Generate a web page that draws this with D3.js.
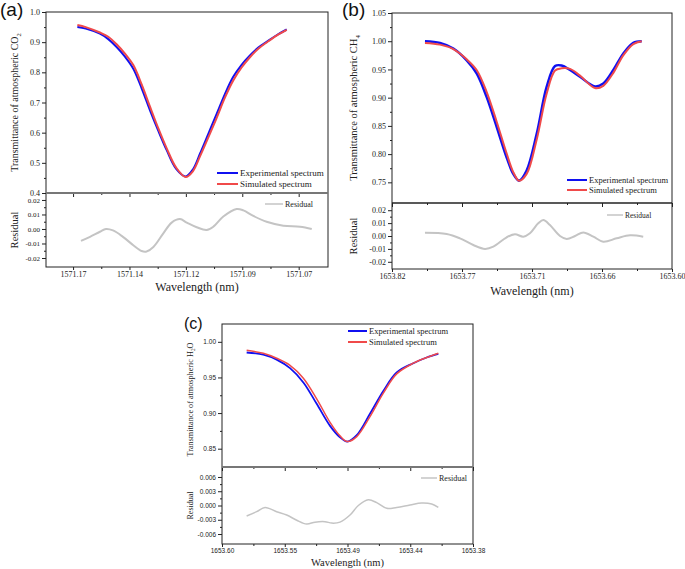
<!DOCTYPE html>
<html><head><meta charset="utf-8">
<script src="https://cdn.jsdelivr.net/npm/d3@7"></script>
<style>body{margin:0;background:#fff} svg{display:block}</style>
</head><body>
<svg id="chart" width="685" height="569"></svg>
<script>
// ---------- Panel (a): CO2 ----------
const aWavelength = [1571.1631,1571.1594,1571.1531,1571.1494,1571.1457,1571.1420,1571.1383,1571.1346,1571.1309,1571.1272,1571.1235,1571.1193,1571.1151,1571.1119,1571.1087,1571.1050,1571.1013,1571.0977,1571.0940,1571.0903,1571.0866,1571.0829,1571.0792,1571.0748,1571.0703];
const aExperimental = [0.950,0.945,0.928,0.910,0.884,0.852,0.812,0.747,0.674,0.606,0.542,0.480,0.455,0.478,0.531,0.597,0.663,0.728,0.785,0.825,0.856,0.882,0.901,0.923,0.942];
const aSimulated = [0.957,0.950,0.932,0.918,0.893,0.862,0.824,0.760,0.686,0.614,0.548,0.484,0.453,0.472,0.522,0.585,0.650,0.716,0.773,0.816,0.850,0.878,0.899,0.922,0.941];
const aResidualWavelength = [1571.1615,1571.1575,1571.1531,1571.1504,1571.1473,1571.1429,1571.1383,1571.1346,1571.1324,1571.1294,1571.1250,1571.1213,1571.1176,1571.1146,1571.1102,1571.1058,1571.1028,1571.0984,1571.0925,1571.0895,1571.0851,1571.0792,1571.0718,1571.0644,1571.0592];
const aResidual = [-0.0082,-0.0054,-0.0019,0.0000,-0.0010,-0.0054,-0.0112,-0.0152,-0.0155,-0.0124,-0.0030,0.0044,0.0068,0.0044,0.0012,-0.0007,0.0016,0.0086,0.0138,0.0128,0.0090,0.0050,0.0023,0.0016,0.0000];
const aXTicks = [1571.165,1571.14,1571.115,1571.09,1571.065];
const aXTickLabels = ["1571.17","1571.14","1571.12","1571.09","1571.07"];
const aYTicks = [0.4,0.5,0.6,0.7,0.8,0.9,1.0];
const aYTickLabels = ["0.4","0.5","0.6","0.7","0.8","0.9","1.0"];
const aResTicks = [0.02,0.01,0,-0.01,-0.02];
const aResTickLabels = ["0.02","0.01","0.00","-0.01","-0.02"];

// ---------- Panel (b): CH4 ----------
const bWavelength = [1653.7941,1653.7823,1653.7718,1653.7613,1653.7535,1653.7456,1653.7377,1653.7299,1653.7247,1653.7202,1653.7142,1653.7063,1653.6985,1653.6919,1653.6867,1653.6801,1653.6723,1653.6605,1653.6540,1653.6461,1653.6383,1653.6304,1653.6238];
const bExperimental = [1.000,0.997,0.987,0.966,0.943,0.901,0.848,0.794,0.765,0.753,0.771,0.836,0.919,0.956,0.957,0.949,0.937,0.920,0.925,0.949,0.978,0.997,1.000];
const bSimulated = [0.997,0.994,0.986,0.968,0.949,0.910,0.857,0.801,0.768,0.753,0.765,0.826,0.907,0.948,0.952,0.951,0.939,0.917,0.921,0.944,0.975,0.995,1.000];
const bResidualWavelength = [1653.7941,1653.7770,1653.7666,1653.7561,1653.7469,1653.7404,1653.7299,1653.7234,1653.7168,1653.7116,1653.7051,1653.7011,1653.6959,1653.6880,1653.6827,1653.6762,1653.6697,1653.6618,1653.6540,1653.6435,1653.6330,1653.6226];
const bResidual = [0.0026,0.0016,-0.0018,-0.0070,-0.0100,-0.0083,-0.0010,0.0013,-0.0005,0.0021,0.0098,0.0124,0.0085,0.0000,-0.0023,0.0000,0.0028,-0.0005,-0.0044,-0.0018,0.0005,-0.0005];
const bXTicks = [1653.82,1653.765,1653.71,1653.655,1653.60];
const bXTickLabels = ["1653.82","1653.77","1653.71","1653.66","1653.60"];
const bYTicks = [0.75,0.80,0.85,0.90,0.95,1.00,1.05];
const bYTickLabels = ["0.75","0.80","0.85","0.90","0.95","1.00","1.05"];
const bResTicks = [0.02,0.01,0,-0.01,-0.02];
const bResTickLabels = ["0.02","0.01","0.00","-0.01","-0.02"];

// ---------- Panel (c): H2O ----------
const cWavelength = [1653.5784,1653.5638,1653.5521,1653.5404,1653.5287,1653.5170,1653.5053,1653.4966,1653.4902,1653.4819,1653.4703,1653.4586,1653.4469,1653.4323,1653.4206,1653.4104];
const cExperimental = [0.985,0.982,0.975,0.963,0.943,0.913,0.882,0.866,0.860,0.869,0.899,0.931,0.957,0.970,0.978,0.983];
const cSimulated = [0.988,0.984,0.977,0.967,0.949,0.920,0.887,0.868,0.860,0.867,0.895,0.928,0.955,0.970,0.978,0.984];
const cResidualWavelength = [1653.5784,1653.5696,1653.5623,1653.5521,1653.5433,1653.5345,1653.5258,1653.5185,1653.5097,1653.5038,1653.4966,1653.4878,1653.4805,1653.4718,1653.4644,1653.4556,1653.4469,1653.4352,1653.4250,1653.4162,1653.4104];
const cResidual = [-0.0022,-0.0013,-0.0004,-0.0013,-0.0020,-0.0031,-0.0039,-0.0035,-0.0034,-0.0037,-0.0035,-0.0020,0.0000,0.0012,0.0006,-0.0006,-0.0004,0.0001,0.0005,0.0003,-0.0004];
const cXTicks = [1653.60,1653.545,1653.49,1653.435,1653.38];
const cXTickLabels = ["1653.60","1653.55","1653.49","1653.44","1653.38"];
const cYTicks = [0.85,0.90,0.95,1.00];
const cYTickLabels = ["0.85","0.90","0.95","1.00"];
const cResTicks = [0.006,0.003,0,-0.003,-0.006];
const cResTickLabels = ["0.006","0.003","0.000","-0.003","-0.006"];

const legendLabels = ["Experimental spectrum","Simulated spectrum"];
const residualLabel = "Residual";

const BLUE = "#1010f0", RED = "#f04a4a", GRAY = "#c4c4c4";
const SERIF = "'Liberation Serif','Times New Roman',serif";
const SANS = "'Liberation Sans',Arial,sans-serif";
const svg = d3.select("#chart");

function midpoints(arr){const m=[];for(let i=0;i<arr.length-1;i++)m.push((arr[i]+arr[i+1])/2);return m;}

function drawPanel(p){
  const g = svg.append("g");
  const x = d3.scaleLinear().domain(p.xDomain).range([p.left,p.right]);
  const yM = d3.scaleLinear().domain(p.yMainDomain).range([p.mid,p.top]);
  const yR = d3.scaleLinear().domain(p.yResDomain).range([p.bottom,p.mid]);

  const styleAxis = (sel, font, size) => {
    sel.select(".domain").remove();
    sel.attr("font-family", font).attr("font-size", size);
    sel.selectAll("line").attr("stroke","#222");
    sel.selectAll("text").attr("fill","#222");
  };

  g.append("g").attr("transform",`translate(${p.left},0)`)
    .call(d3.axisLeft(yM).tickValues(p.yTicks).tickFormat((d,i)=>p.yLabels[i]).tickSize(4).tickPadding(2))
    .call(s=>styleAxis(s,p.tickFont,p.tickSize));
  g.append("g").attr("transform",`translate(${p.left},0)`)
    .call(d3.axisLeft(yM).tickValues(midpoints(p.yTicks)).tickFormat("").tickSize(2))
    .call(s=>styleAxis(s,p.tickFont,p.tickSize));
  g.append("g").attr("transform",`translate(${p.left},0)`)
    .call(d3.axisLeft(yR).tickValues(p.rTicks).tickFormat((d,i)=>p.rLabels[i]).tickSize(4).tickPadding(2))
    .call(s=>styleAxis(s,p.tickFont,p.rTickSize||p.tickSize));
  g.append("g").attr("transform",`translate(${p.left},0)`)
    .call(d3.axisLeft(yR).tickValues(midpoints(p.rTicks)).tickFormat("").tickSize(2))
    .call(s=>styleAxis(s,p.tickFont,p.tickSize));
  const xMinor = midpoints(p.xTicks);
  g.append("g").attr("transform",`translate(0,${p.mid})`)
    .call(d3.axisBottom(x).tickValues(p.xTicks).tickFormat("").tickSize(4)).call(s=>styleAxis(s,p.tickFont,p.tickSize));
  g.append("g").attr("transform",`translate(0,${p.mid})`)
    .call(d3.axisBottom(x).tickValues(xMinor).tickFormat("").tickSize(2)).call(s=>styleAxis(s,p.tickFont,p.tickSize));
  g.append("g").attr("transform",`translate(0,${p.bottom})`)
    .call(d3.axisBottom(x).tickValues(p.xTicks).tickFormat((d,i)=>p.xLabels[i]).tickSize(3).tickPadding(p.xPad))
    .call(s=>styleAxis(s,p.tickFont,p.tickSize));
  g.append("g").attr("transform",`translate(0,${p.bottom})`)
    .call(d3.axisBottom(x).tickValues(xMinor).tickFormat("").tickSize(2)).call(s=>styleAxis(s,p.tickFont,p.tickSize));

  g.append("rect").attr("x",p.left).attr("y",p.top).attr("width",p.right-p.left).attr("height",p.bottom-p.top)
    .attr("fill","none").attr("stroke","#222").attr("stroke-width",1);
  g.append("line").attr("x1",p.left).attr("x2",p.right).attr("y1",p.mid).attr("y2",p.mid)
    .attr("stroke",p.sepColor).attr("stroke-width",p.sepWidth);

  const lineMain = d3.line().x(d=>x(d[0])).y(d=>yM(d[1])).curve(d3.curveCatmullRom.alpha(0.5));
  const lineRes = d3.line().x(d=>x(d[0])).y(d=>yR(d[1])).curve(d3.curveCatmullRom.alpha(0.5));
  g.append("path").attr("d",lineMain(p.wl.map((w,i)=>[w,p.exp[i]]))).attr("fill","none")
    .attr("stroke",BLUE).attr("stroke-width",p.lwExp);
  g.append("path").attr("d",lineMain(p.wl.map((w,i)=>[w,p.sim[i]]))).attr("fill","none")
    .attr("stroke",RED).attr("stroke-width",p.lwSim);
  g.append("path").attr("d",lineRes(p.rwl.map((w,i)=>[w,p.res[i]]))).attr("fill","none")
    .attr("stroke",GRAY).attr("stroke-width",p.lwRes);

  [BLUE,RED].forEach((c,i)=>{
    const ly = p.legY + i*p.legGap;
    g.append("line").attr("x1",p.legX).attr("x2",p.legX+p.legLen).attr("y1",ly).attr("y2",ly)
      .attr("stroke",c).attr("stroke-width",2);
    g.append("text").attr("x",p.legX+p.legLen+2).attr("y",ly).attr("dy","0.35em")
      .attr("font-family",SERIF).attr("font-size",p.legSize).attr("fill","#222").text(legendLabels[i]);
  });
  g.append("line").attr("x1",p.rLegX).attr("x2",p.rLegX+p.rLegLen).attr("y1",p.rLegY).attr("y2",p.rLegY)
    .attr("stroke",GRAY).attr("stroke-width",1.5);
  g.append("text").attr("x",p.rLegX+p.rLegLen+2).attr("y",p.rLegY).attr("dy","0.35em")
    .attr("font-family",SERIF).attr("font-size",p.rLegSize).attr("fill","#222").text(residualLabel);

  const yt = g.append("text").attr("transform",`translate(${p.yTitleX},${(p.top+p.mid)/2+p.yTitleDy}) rotate(-90)`)
    .attr("text-anchor","middle").attr("font-family",SERIF).attr("font-size",p.yTitleSize).attr("fill","#222");
  yt.append("tspan").text("Transmittance of atmospheric "+p.molA);
  yt.append("tspan").attr("font-size",p.yTitleSize*0.65).attr("dy",p.yTitleSize*0.25).text(p.molSub);
  if(p.molB) yt.append("tspan").attr("dy",-p.yTitleSize*0.25).text(p.molB);
  g.append("text").attr("transform",`translate(${p.yTitleX},${(p.mid+p.bottom)/2}) rotate(-90)`)
    .attr("text-anchor","middle").attr("font-family",SERIF).attr("font-size",p.rTitleSize).attr("fill","#222").text(residualLabel);
  g.append("text").attr("x",(p.left+p.right)/2+p.xTitleDx).attr("y",p.xTitleY).attr("text-anchor","middle")
    .attr("font-family",SERIF).attr("font-size",p.xTitleSize).attr("fill","#222").text("Wavelength (nm)");
  svg.append("text").attr("x",p.tagX).attr("y",p.tagY).attr("font-family",SANS).attr("font-size",p.tagSize)
    .attr("fill","#111").text(p.tag);
}

drawPanel({
  tag:"(a)",tagX:0,tagY:16,tagSize:19,
  left:46,right:328,top:12,mid:193,bottom:267,
  xDomain:[1571.177,1571.052],yMainDomain:[0.4,1.0],yResDomain:[-0.0262,0.0248],
  xTicks:aXTicks,xLabels:aXTickLabels,yTicks:aYTicks,yLabels:aYTickLabels,rTicks:aResTicks,rLabels:aResTickLabels,
  wl:aWavelength,exp:aExperimental,sim:aSimulated,rwl:aResidualWavelength,res:aResidual,
  tickFont:SERIF,tickSize:8,rTickSize:7,xPad:1,
  sepColor:"#777",sepWidth:2,lwExp:2,lwSim:2,lwRes:2,
  legX:217,legY:173,legGap:11,legLen:21,legSize:9,
  rLegX:265,rLegY:204,rLegLen:18,rLegSize:8,
  yTitleX:18,yTitleDy:0,yTitleSize:10,molA:"CO",molSub:"2",molB:"",rTitleSize:10.5,
  xTitleDx:10,xTitleY:291,xTitleSize:12
});
drawPanel({
  tag:"(b)",tagX:342,tagY:16,tagSize:19,
  left:392,right:672,top:13,mid:203,bottom:269,
  xDomain:[1653.82,1653.60],yMainDomain:[0.7134,1.05],yResDomain:[-0.0256,0.0256],
  xTicks:bXTicks,xLabels:bXTickLabels,yTicks:bYTicks,yLabels:bYTickLabels,rTicks:bResTicks,rLabels:bResTickLabels,
  wl:bWavelength,exp:bExperimental,sim:bSimulated,rwl:bResidualWavelength,res:bResidual,
  tickFont:SERIF,tickSize:8,xPad:1,
  sepColor:"#222",sepWidth:1.5,lwExp:2.5,lwSim:2,lwRes:2,
  legX:567,legY:180,legGap:10,legLen:20,legSize:8.5,
  rLegX:607,rLegY:215,rLegLen:16,rLegSize:7.5,
  yTitleX:357,yTitleDy:0,yTitleSize:10.5,molA:"CH",molSub:"4",molB:"",rTitleSize:10.5,
  xTitleDx:0,xTitleY:295,xTitleSize:12
});
drawPanel({
  tag:"(c)",tagX:184,tagY:329,tagSize:16,
  left:222,right:473,top:324,mid:467,bottom:544,
  xDomain:[1653.60,1653.38],yMainDomain:[0.8243,1.025],yResDomain:[-0.0081,0.0081],
  xTicks:cXTicks,xLabels:cXTickLabels,yTicks:cYTicks,yLabels:cYTickLabels,rTicks:cResTicks,rLabels:cResTickLabels,
  wl:cWavelength,exp:cExperimental,sim:cSimulated,rwl:cResidualWavelength,res:cResidual,
  tickFont:SANS,tickSize:6.5,xPad:1,
  sepColor:"#777",sepWidth:2,lwExp:1.8,lwSim:1.5,lwRes:1.5,
  legX:348,legY:331,legGap:11,legLen:19,legSize:8.5,
  rLegX:421,rLegY:478,rLegLen:16,rLegSize:8,
  yTitleX:193,yTitleDy:4,yTitleSize:8.2,molA:"H",molSub:"2",molB:"O",rTitleSize:8,
  xTitleDx:0,xTitleY:566,xTitleSize:10.5
});
</script>
</body></html>
